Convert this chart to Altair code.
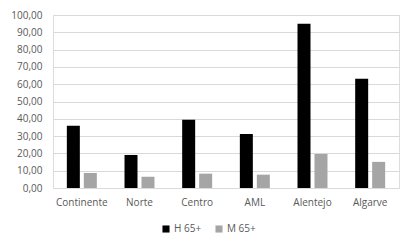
import altair as alt
import pandas as pd

regions = ["Continente", "Norte", "Centro", "AML", "Alentejo", "Algarve"]
series = ["H 65+", "M 65+"]
h65 = [36.0, 19.1, 39.4, 31.2, 95.0, 63.1]
m65 = [8.7, 6.5, 8.3, 7.7, 19.7, 15.1]
y_ticks = [0, 10, 20, 30, 40, 50, 60, 70, 80, 90, 100]

rows = []
for r, a, b in zip(regions, h65, m65):
    rows.append({"Região": r, "Série": series[0], "Valor": a})
    rows.append({"Região": r, "Série": series[1], "Valor": b})
df = pd.DataFrame(rows)

font = "Open Sans"
txt = "#595959"

chart = (
    alt.Chart(df)
    .mark_bar()
    .encode(
        x=alt.X(
            "Região:N",
            sort=regions,
            title=None,
            scale=alt.Scale(paddingInner=0.48, paddingOuter=0.24),
            axis=alt.Axis(
                labelAngle=0, labelFont=font, labelFontSize=10, labelColor=txt,
                ticks=False, domainColor="#d9d9d9", labelPadding=9, grid=False,
            ),
        ),
        xOffset=alt.XOffset("Série:N", sort=series,
                            scale=alt.Scale(paddingInner=0.235, paddingOuter=0)),
        y=alt.Y(
            "Valor:Q",
            title=None,
            scale=alt.Scale(domain=[0, 100], nice=False),
            axis=alt.Axis(
                values=y_ticks,
                labelExpr="replace(format(datum.value, '.2f'), '.', ',')",
                labelFont=font, labelFontSize=10, labelColor=txt,
                ticks=False, domain=False, gridColor="#d9d9d9", labelPadding=11,
            ),
        ),
        color=alt.Color(
            "Série:N",
            sort=series,
            scale=alt.Scale(domain=series, range=["#000000", "#a5a5a5"]),
            legend=alt.Legend(
                title=None, orient="none", direction="horizontal",
                legendX=108, legendY=209, symbolType="square", symbolSize=50,
                symbolStrokeWidth=0, labelFont=font, labelFontSize=10,
                labelColor=txt, columnPadding=12, labelOffset=3,
            ),
        ),
    )
    .properties(width=346, height=173, autosize=alt.AutoSizeParams(type="none"),
                padding={"left": 45, "top": 7, "right": 7, "bottom": 54})
    .configure_view(stroke=None)
    .configure(background="white")
)

chart.save("out.html", embed_options={"renderer": "svg", "actions": False})
